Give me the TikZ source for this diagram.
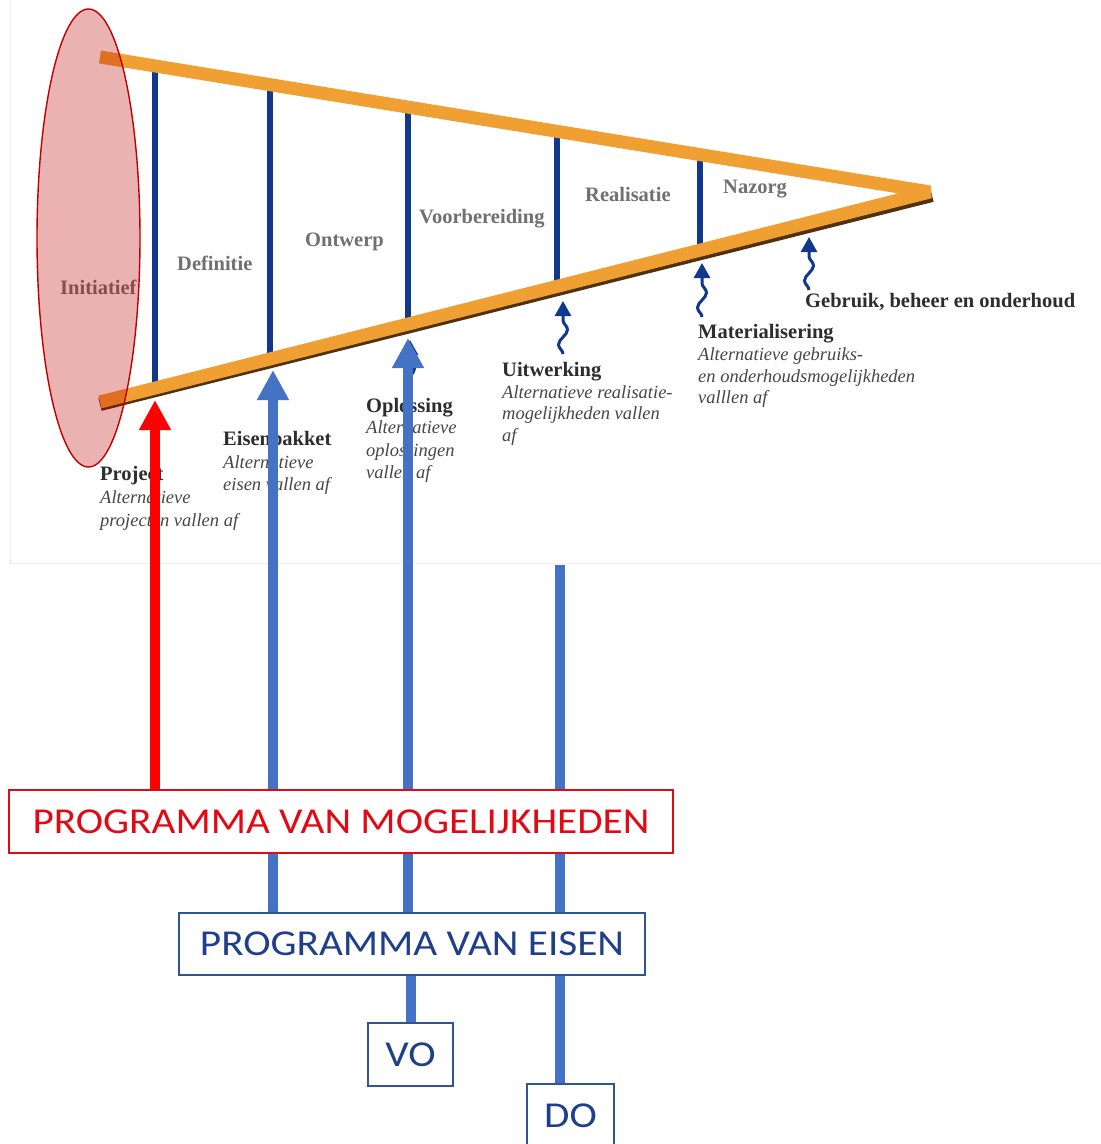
\documentclass[tikz,border=0pt]{standalone}
\usepackage{fontspec}
\setmainfont{Liberation Serif}
\newfontfamily\boxfont[FakeStretch=1.13]{Carlito}
\usetikzlibrary{arrows.meta,decorations.pathmorphing,calc}
\pgfdeclarelayer{front}
\pgfsetlayers{main,front}
\definecolor{orng}{RGB}{240,160,50}
\definecolor{orngshadow}{RGB}{80,50,15}
\definecolor{navy}{RGB}{18,56,140}
\definecolor{pblue}{RGB}{68,114,196}
\definecolor{pmred}{RGB}{225,10,20}
\definecolor{pebord}{RGB}{47,85,151}
\definecolor{petext}{RGB}{31,63,138}
\definecolor{ellred}{RGB}{192,0,0}
\definecolor{phasegray}{RGB}{112,112,112}
\definecolor{stagegray}{RGB}{45,45,45}
\definecolor{notegray}{RGB}{70,70,70}
\begin{document}
\begin{tikzpicture}[x=1pt,y=-1pt,
  phase/.style={anchor=base west, inner sep=0pt, text=phasegray, font=\fontsize{20.5}{24}\selectfont\bfseries},
  stage/.style={anchor=base west, inner sep=0pt, text=stagegray, font=\fontsize{20.5}{24}\selectfont\bfseries},
  note/.style={anchor=base west, inner sep=0pt, text=notegray, font=\fontsize{18.5}{22}\selectfont\itshape},
  rung/.style={draw=navy, line width=6pt},
  beam/.style={draw=orng, line width=13pt, line join=miter, miter limit=2},
  bigred/.style={draw=red, line width=10pt, -{Triangle[width=30pt,length=30pt]}},
  bigblue/.style={draw=pblue, line width=10pt, -{Triangle[width=30pt,length=30pt]}},
  plainblue/.style={draw=pblue, line width=10pt},
  wiggle/.style={draw=navy, line width=3pt, decorate,
     decoration={snake, amplitude=4.5pt, segment length=30pt, post length=14pt},
     -{Triangle[width=16pt,length=15pt]}},
  pmbox/.style={draw=pmred, line width=1.5pt, fill=white, text=pmred, inner sep=0pt,
     font=\boxfont\fontsize{36.5}{40}\selectfont, text height=23.5pt, text depth=0pt},
  pebox/.style={draw=pebord, line width=1.5pt, fill=white, text=petext, inner sep=0pt,
     font=\boxfont\fontsize{36.5}{40}\selectfont, text height=23.5pt, text depth=0pt}
]
\useasboundingbox (0,0) rectangle (1101,1144);
\clip (0,0) rectangle (1101,1144);
\fill[white] (0,0) rectangle (1101,1144);
\draw[black!7, line width=0.8pt] (10,-2) rectangle (1103,563);

% boxes (on the front layer)
\begin{pgfonlayer}{front}
\node[pmbox, minimum width=664pt, minimum height=63pt] (PvM) at (341,821.5) {PROGRAMMA VAN MOGELIJKHEDEN};
\node[pebox, minimum width=466pt, minimum height=62pt] (PvE) at (412,944) {PROGRAMMA VAN EISEN};
\node[pebox, minimum width=85pt, minimum height=63pt] (VO) at (410.5,1054.5) {VO};
\node[pebox, minimum width=87pt, minimum height=63pt] (DO) at (570.5,1115.5) {DO};
\end{pgfonlayer}

% phase labels
\node[phase] (lInit) at (60,294) {Initiatief};
\node[phase] (lDef) at (177,270) {Definitie};
\node[phase] (lOnt) at (305,246) {Ontwerp};
\node[phase] (lVoor) at (419,223) {Voorbereiding};
\node[phase] (lReal) at (585,201) {Realisatie};
\node[phase] (lNaz) at (723,193) {Nazorg};

% rungs
\draw[rung] (155,66) -- (155,388);
\draw[rung] (270,85) -- (270,359);
\draw[rung] (408,107) -- (408,324);
\draw[rung] (557,131) -- (557,286);
\draw[rung] (700,155) -- (700,250);

% orange funnel
\draw[draw=orngshadow, line width=13pt] (100,404.5) -- (932,195.5);
\draw[beam] (100,57) -- (930,192) -- (100,402);

% stage texts
\node[stage] (tProj) at (100,480) {Project};
\node[note] (tProj1) at (100,503) {Alternatieve};
\node[note] (tProj2) at (100,526) {projecten vallen af};
\node[stage] (tEis) at (223,445) {Eisenpakket};
\node[note] (tEis1) at (223,468) {Alternatieve};
\node[note] (tEis2) at (223,490) {eisen vallen af};
\node[stage] (tOpl) at (366,412) {Oplossing};
\node[note] (tOpl1) at (366,433) {Alternatieve};
\node[note] (tOpl2) at (366,456) {oplossingen};
\node[note] (tOpl3) at (366,478) {vallen af};
\node[stage] (tUit) at (502,376) {Uitwerking};
\node[note] (tUit1) at (502,398) {Alternatieve realisatie-};
\node[note] (tUit2) at (502,419) {mogelijkheden vallen};
\node[note] (tUit3) at (502,441) {af};
\node[stage] (tMat) at (698,338) {Materialisering};
\node[note] (tMat1) at (698,360) {Alternatieve gebruiks-};
\node[note] (tMat2) at (698,382) {en onderhoudsmogelijkheden};
\node[note] (tMat3) at (698,403) {valllen af};
\node[stage] (tGeb) at (805,307) {Gebruik, beheer en onderhoud};

% wiggly arrows
\coordinate (wOplB) at (410,393); \coordinate (wOplT) at (410,340);
\coordinate (wUitB) at (563,354); \coordinate (wUitT) at (563,301);
\coordinate (wMatB) at (702,317); \coordinate (wMatT) at (702,263);
\coordinate (wGebB) at (809,290); \coordinate (wGebT) at (809,237);
\draw[wiggle] (wOplB) -- (wOplT);
\draw[wiggle] (wUitB) -- (wUitT);
\draw[wiggle] (wMatB) -- (wMatT);
\draw[wiggle] (wGebB) -- (wGebT);

% initiatief ellipse
\draw[draw=ellred, line width=1.4pt, fill=ellred, fill opacity=0.3, draw opacity=1]
  (88.5,238) ellipse [x radius=51.5, y radius=229];

% connectors (boxes are on the front layer, so they cover these)
\coordinate (projTip) at (155,400);
\coordinate (eisTip) at (273,370);
\coordinate (oplTip) at (408,338);
\coordinate (doTop) at (560,565);
\draw[bigred] (PvM.north -| projTip) -- (projTip);
\draw[bigblue] (PvE.north -| eisTip) -- (eisTip);
\draw[bigblue] (PvE.north -| oplTip) -- (oplTip);
\draw[plainblue] (VO.north) -- (VO.north |- PvE.south);
\draw[plainblue] (DO.north -| doTop) -- (doTop);
\end{tikzpicture}
\end{document}
